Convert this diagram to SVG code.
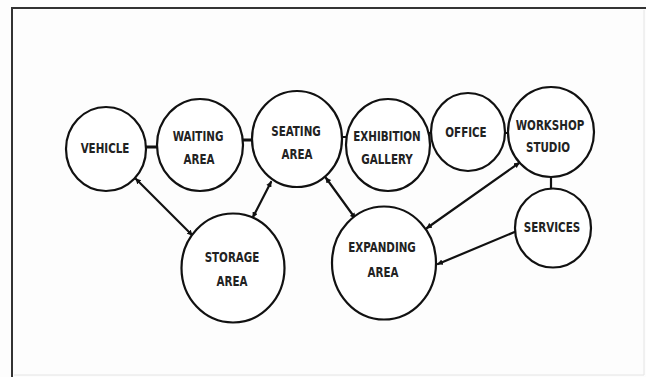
<svg xmlns="http://www.w3.org/2000/svg" width="646" height="377" viewBox="0 0 646 377">
<style>
.n ellipse{fill:#fff;stroke:#111;stroke-width:2.2}
.n text{font-family:"DejaVu Sans Condensed","DejaVu Sans",sans-serif;font-weight:bold;font-size:14px;fill:#222;text-anchor:middle;dominant-baseline:central}
.c line{stroke:#111;stroke-width:2.2;stroke-linecap:round}
.c line.b{stroke-width:3.2}
</style>
<defs>
<marker id="a" viewBox="0 0 6 6" refX="5" refY="3" markerWidth="2.6" markerHeight="2.6" orient="auto-start-reverse"><path d="M0,0L6,3L0,6z" fill="#111"/></marker>
</defs>
<rect x="0" y="0" width="646" height="377" fill="#fdfdfd"/>
<path d="M12,377V8H646" fill="none" stroke="#333" stroke-width="2"/>
<path d="M644,10V375H14" fill="none" stroke="#e4e4e4" stroke-width="1"/>
<g class="c">
<line class="b" x1="146" y1="147" x2="157" y2="147"/>
<line class="b" x1="242" y1="140" x2="252" y2="140"/>
<line x1="342" y1="137" x2="346" y2="137"/>
<line x1="429" y1="133" x2="432" y2="133"/>
<line x1="505" y1="133" x2="508" y2="133"/>
<line x1="551" y1="177" x2="551" y2="189"/>
<line x1="136" y1="179" x2="192" y2="235" marker-start="url(#a)" marker-end="url(#a)"/>
<line x1="253" y1="217" x2="271" y2="182" marker-start="url(#a)" marker-end="url(#a)"/>
<line x1="326" y1="178" x2="355" y2="218" marker-start="url(#a)" marker-end="url(#a)"/>
<line x1="427" y1="228" x2="519" y2="163" marker-start="url(#a)" marker-end="url(#a)"/>
<line x1="438" y1="264" x2="517" y2="231" marker-start="url(#a)"/>
</g>
<g class="n" id="vehicle"><ellipse cx="106" cy="149" rx="40" ry="42"/><text transform="translate(105,148) scale(0.82,1)">VEHICLE</text></g>
<g class="n" id="waiting"><ellipse cx="200" cy="145" rx="43" ry="46"/><text transform="translate(198,136) scale(0.82,1)">WAITING</text><text transform="translate(199,159) scale(0.82,1)">AREA</text></g>
<g class="n" id="seating"><ellipse cx="297" cy="139" rx="45" ry="48"/><text transform="translate(296,131) scale(0.82,1)">SEATING</text><text transform="translate(297,154) scale(0.82,1)">AREA</text></g>
<g class="n" id="exhibition"><ellipse cx="388" cy="145" rx="42" ry="46"/><text transform="translate(387,136) scale(0.82,1)">EXHIBITION</text><text transform="translate(387,159) scale(0.82,1)">GALLERY</text></g>
<g class="n" id="office"><ellipse cx="468" cy="132" rx="37" ry="39"/><text transform="translate(466,132) scale(0.82,1)">OFFICE</text></g>
<g class="n" id="workshop"><ellipse cx="551" cy="132" rx="43" ry="45"/><text transform="translate(550,125) scale(0.82,1)">WORKSHOP</text><text transform="translate(548,147) scale(0.82,1)">STUDIO</text></g>
<g class="n" id="services"><ellipse cx="553" cy="228" rx="38" ry="39.5"/><text transform="translate(552,227) scale(0.82,1)">SERVICES</text></g>
<g class="n" id="storage"><ellipse cx="233" cy="268" rx="51.5" ry="54.5"/><text transform="translate(232,257) scale(0.82,1)">STORAGE</text><text transform="translate(232,281) scale(0.82,1)">AREA</text></g>
<g class="n" id="expanding"><ellipse cx="384" cy="263" rx="52" ry="56.5"/><text transform="translate(382,247) scale(0.82,1)">EXPANDING</text><text transform="translate(383,272) scale(0.82,1)">AREA</text></g>
</svg>
